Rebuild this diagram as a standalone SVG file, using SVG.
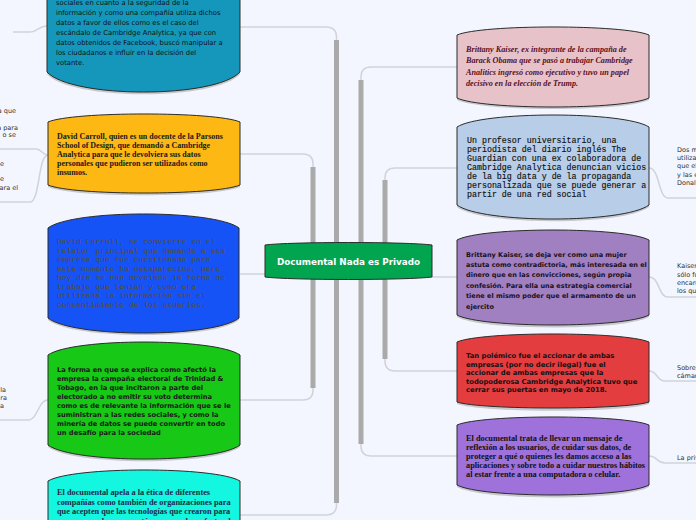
<svg xmlns="http://www.w3.org/2000/svg" width="696" height="520" viewBox="0 0 696 520">
<style>
.thin{fill:none;stroke:#d0d3da;stroke-width:1.5}
.trunk{fill:none;stroke:#aaaaaa;stroke-width:5}
.node{stroke:#2b2b2b;stroke-width:1}
.shadow{fill:#9a9a9a;opacity:0.5}
.verd{font-family:"DejaVu Sans",Verdana,sans-serif}
.serifb{font-family:"Liberation Serif","Times New Roman",serif;font-weight:bold}
.mono{font-family:"Liberation Mono","Courier New",monospace}
.child{font-family:"DejaVu Sans",Verdana,sans-serif;font-size:6.5px;fill:#333}
</style>
<rect width="696" height="520" fill="#f3f6fe"/>
<g id="connectors">
<path class="thin" d="M240,27 L326,27 Q336.5,27 336.5,37 L336.5,505 Q336.5,515 326,515 L240,515"/>
<path class="trunk" d="M336.5,40 L336.5,503"/>
<path class="thin" d="M240,154 L303,154 Q313,154 313,164 L313,390 Q313,400 303,400 L240,400"/>
<path class="trunk" d="M313,167 L313,388"/>
<path class="thin" d="M240,274 L265,274"/>
<path class="thin" d="M457,67 L371,67 Q361,67 361,77 L361,446 Q361,456 371,456 L457,456"/>
<path class="trunk" d="M361,80 L361,444"/>
<path class="thin" d="M457,168 L395,168 Q385,168 385,178 L385,361 Q385,371 395,371 L457,371"/>
<path class="trunk" d="M385,180 L385,359"/>
<path class="thin" d="M432,277 L457,277"/>
<path class="thin" d="M47,26 C38,26 38,32 30,32 L13,32"/>
<path class="thin" d="M48,155 C42,155 42,149 36,149 L0,149"/>
<path class="thin" d="M48,155 C38,155 40,202 30,202 L0,202"/>
<path class="thin" d="M48,400 C38,400 38,420 28,420 L0,420"/>
<path class="thin" d="M649,168 C660,168 658,198 668,198 L696,198"/>
<path class="thin" d="M649,277 C660,277 658,297 668,297 L696,297"/>
<path class="thin" d="M649,371 C658,371 656,381 665,381 L696,381"/>
<path class="thin" d="M649,456 C658,456 656,463 665,463 L696,463"/>
</g>
<g id="child-texts">
<text class="child" text-anchor="end" x="16" y="112.5">a que</text>
<text class="child" text-anchor="end" x="18" y="130">a para</text>
<text class="child" text-anchor="end" x="16" y="137">o se</text>
<text class="child" text-anchor="end" x="4" y="166">e</text>
<text class="child" text-anchor="end" x="4" y="181">e</text>
<text class="child" text-anchor="end" x="18" y="190">ara el</text>
<text class="child" text-anchor="end" x="6" y="391.5">la</text>
<text class="child" text-anchor="end" x="7" y="400">ra</text>
<text class="child" text-anchor="end" x="4" y="408">a</text>
<text class="child" x="677" y="152">Dos m</text>
<text class="child" x="677" y="160">utiliza</text>
<text class="child" x="677" y="168">que el</text>
<text class="child" x="677" y="177">y las e</text>
<text class="child" x="677" y="185">Donal</text>
<text class="child" x="677" y="267.5">Kaiser</text>
<text class="child" x="677" y="277">sólo fu</text>
<text class="child" x="677" y="285">encarg</text>
<text class="child" x="677" y="293">los qu</text>
<text class="child" x="677" y="370">Sobre</text>
<text class="child" x="677" y="378">cámar</text>
<text class="child" x="677" y="460">La priv</text>
</g>
<g id="node-teal">
<path class="shadow" d="M47,-58 L240,-58 L240,74 C217,101 70,101 47,74 Z"/>
<path class="node" fill="#1597bb" d="M47,-60 C72,-73 215,-73 240,-60 L240,72 C215,98.7 72,98.7 47,72 Z"/>
<g class="verd" font-size="6.8" fill="#111">
<text x="56" y="4.5">sociales en cuanto a la seguridad de la</text>
<text x="56" y="14.5">información y como una compañía utiliza dichos</text>
<text x="56" y="24.5">datos a favor de ellos como es el caso del</text>
<text x="56" y="34.5">escándalo de Cambridge Analytica, ya que con</text>
<text x="56" y="44.5">datos obtenidos de Facebook, buscó manipular a</text>
<text x="56" y="54.5">los ciudadanos e influir en la decisión del</text>
<text x="56" y="64.5">votante.</text>
</g>
</g>
<g id="node-carroll">
<path class="shadow" d="M48,124 L240,124 L240,187 C215,198 73,198 48,187 Z"/>
<path class="node" fill="#fdb813" d="M48,122 C73,111.3 215,111.3 240,122 L240,185 C215,195.7 73,195.7 48,185 Z"/>
<g class="serifb" font-size="8" fill="#1a1a1a">
<text x="57" y="139">David Carroll, quien es un docente de la Parsons</text>
<text x="57" y="148">School of Design, que demandó a Cambridge</text>
<text x="57" y="157">Analytica para que le devolviera sus datos</text>
<text x="57" y="166">personales que pudieron ser utilizados como</text>
<text x="57" y="175">insumos.</text>
</g>
</g>
<g id="node-blue">
<path class="shadow" d="M48,230 L239,230 L239,320 C214,340 73,340 48,320 Z"/>
<path class="node" fill="#1653f7" d="M48,228 C73,209.3 214,209.3 239,228 L239,318 C214,338 73,338 48,318 Z"/>
<g class="mono" font-size="8" fill="#5c4b2e">
<text x="57" y="243.5">David Carroll, se convierte en el</text>
<text x="57" y="252.5">relator principal que demandó a esa</text>
<text x="57" y="261.5">empresa  que fue cuestionada para</text>
<text x="57" y="270.5">este momento ha desaparecido, pero</text>
<text x="57" y="279.5">hoy día se han develado la forma de</text>
<text x="57" y="288.5">trabajo que tenían y como era</text>
<text x="57" y="297.5">utilizada la información sin el</text>
<text x="57" y="306.5">consentimiento de los usuarios.</text>
</g>
</g>
<g id="node-green">
<path class="shadow" d="M48,357 L240,357 L240,447 C215,466 73,466 48,447 Z"/>
<path class="node" fill="#17c817" d="M48,355 C73,337.7 215,337.7 240,355 L240,445 C215,463.7 73,463.7 48,445 Z"/>
<g class="verd" font-weight="bold" font-size="6.7" fill="#1a1a1a">
<text x="57" y="371.5">La forma en que se explica  como afectó la</text>
<text x="57" y="380.5">empresa la campaña electoral  de Trinidad &amp;</text>
<text x="57" y="389.5">Tobago, en la que incitaron a parte del</text>
<text x="57" y="398.5">electorado a no emitir su voto determina</text>
<text x="57" y="407.5">como es de relevante la información que se le</text>
<text x="57" y="416.5">suministran a las redes sociales, y como la</text>
<text x="57" y="425.5">minería de datos se puede convertir en todo</text>
<text x="57" y="434.5">un desafío para la sociedad</text>
</g>
</g>
<g id="node-cyan">
<path class="node" fill="#13f7e0" d="M48,481 C73,466.3 215,466.3 240,481 L240,560 L48,560 Z"/>
<g class="serifb" font-size="8.3" fill="#1f2a48">
<text x="57" y="495">El documental  apela a la ética de diferentes</text>
<text x="57" y="504.5">compañías como también de organizaciones para</text>
<text x="57" y="514">que acepten que las tecnologías que crearon para</text>
<text x="57" y="523.5">acercarnos ahora nos están separando y afectando</text>
</g>
</g>
<g id="node-center">
<path class="node" fill="#02a54f" stroke="#111" d="M265,245 C290,241.7 407,241.7 432,245 L432,277 C407,280.3 290,280.3 265,277 Z"/>
<text x="348.5" y="264.5" text-anchor="middle" class="verd" font-weight="bold" font-size="8.8" fill="#ffffff">Documental Nada es Privado</text>
</g>
<g id="node-pink">
<path class="shadow" d="M457,37 L649,37 L649,100 C624,112 482,112 457,100 Z"/>
<path class="node" fill="#e7c3c9" stroke="#6b1a2a" d="M457,35 C482,24.3 624,24.3 649,35 L649,98 C624,110 482,110 457,98 Z"/>
<g font-family="'Liberation Serif',serif" font-style="italic" font-weight="bold" font-size="8.2" fill="#5b0f1e">
<text x="466" y="51.5">Brittany Kaiser, ex integrante de la campaña de</text>
<text x="466" y="63">Barack Obama que se pasó a trabajar Cambridge</text>
<text x="466" y="74.5">Analitics ingresó como ejecutivo  y tuvo un papel</text>
<text x="466" y="86">decisivo en la elección de Trump.</text>
</g>
</g>
<g id="node-lightblue">
<path class="shadow" d="M457,129 L649,129 L649,207 C624,226 482,226 457,207 Z"/>
<path class="node" fill="#b8cde7" d="M457,127 C482,111 624,111 649,127 L649,205 C624,223.7 482,223.7 457,205 Z"/>
<g class="mono" font-size="8.3" fill="#111" stroke="#111" stroke-width="0.15">
<text x="467" y="143">Un profesor universitario, una</text>
<text x="467" y="152">periodista del diario inglés The</text>
<text x="467" y="161">Guardian con una ex colaboradora de</text>
<text x="467" y="169.5">Cambridge Analytica denuncian vicios</text>
<text x="467" y="178.5">de la big data y de la propaganda</text>
<text x="467" y="187.5">personalizada que se puede generar a</text>
<text x="467" y="196.5">partir de una red social</text>
</g>
</g>
<g id="node-purple">
<path class="shadow" d="M457,242 L649,242 L649,317 C624,331 482,331 457,317 Z"/>
<path class="node" fill="#a080c0" d="M457,240 C482,226.7 624,226.7 649,240 L649,315 C624,328.3 482,328.3 457,315 Z"/>
<g class="verd" font-weight="bold" font-size="6.5" fill="#1a1020">
<text x="466" y="256.5">Brittany Kaiser, se deja ver como una mujer</text>
<text x="466" y="266.5">astuta como contradictoria, más interesada en el</text>
<text x="466" y="277">dinero que en las convicciones, según propia</text>
<text x="466" y="287.5">confesión. Para ella una estrategia comercial</text>
<text x="466" y="298">tiene el mismo poder que el armamento de un</text>
<text x="466" y="308.5">ejercito</text>
</g>
</g>
<g id="node-red">
<path class="shadow" d="M457,344 L649,344 L649,404 C624,413 482,413 457,404 Z"/>
<path class="node" fill="#e43d3f" d="M457,342 C482,331.3 624,331.3 649,342 L649,402 C624,410 482,410 457,402 Z"/>
<g class="verd" font-weight="bold" font-size="6.8" fill="#111">
<text x="466" y="357.5">Tan polémico fue el accionar de ambas</text>
<text x="466" y="366.5">empresas (por no decir ilegal) fue el</text>
<text x="466" y="375">accionar de ambas empresas que la</text>
<text x="466" y="383.5">todopoderosa Cambridge Analytica tuvo que</text>
<text x="466" y="392">cerrar sus puertas en mayo de 2018.</text>
</g>
</g>
<g id="node-violet">
<path class="shadow" d="M457,427 L649,427 L649,487 C624,501 482,501 457,487 Z"/>
<path class="node" fill="#9e71db" d="M457,425 C482,414.3 624,414.3 649,425 L649,485 C624,498.3 482,498.3 457,485 Z"/>
<g class="serifb" font-size="8.3" fill="#111">
<text x="466" y="441">El documental trata de llevar un mensaje de</text>
<text x="466" y="450">reflexión a los usuarios, de cuidar sus datos, de</text>
<text x="466" y="459">proteger a qué o quienes les damos acceso a las</text>
<text x="466" y="468">aplicaciones y sobre todo a cuidar nuestros hábitos</text>
<text x="466" y="477">al estar frente a una computadora o celular.</text>
</g>
</g>
</svg>
